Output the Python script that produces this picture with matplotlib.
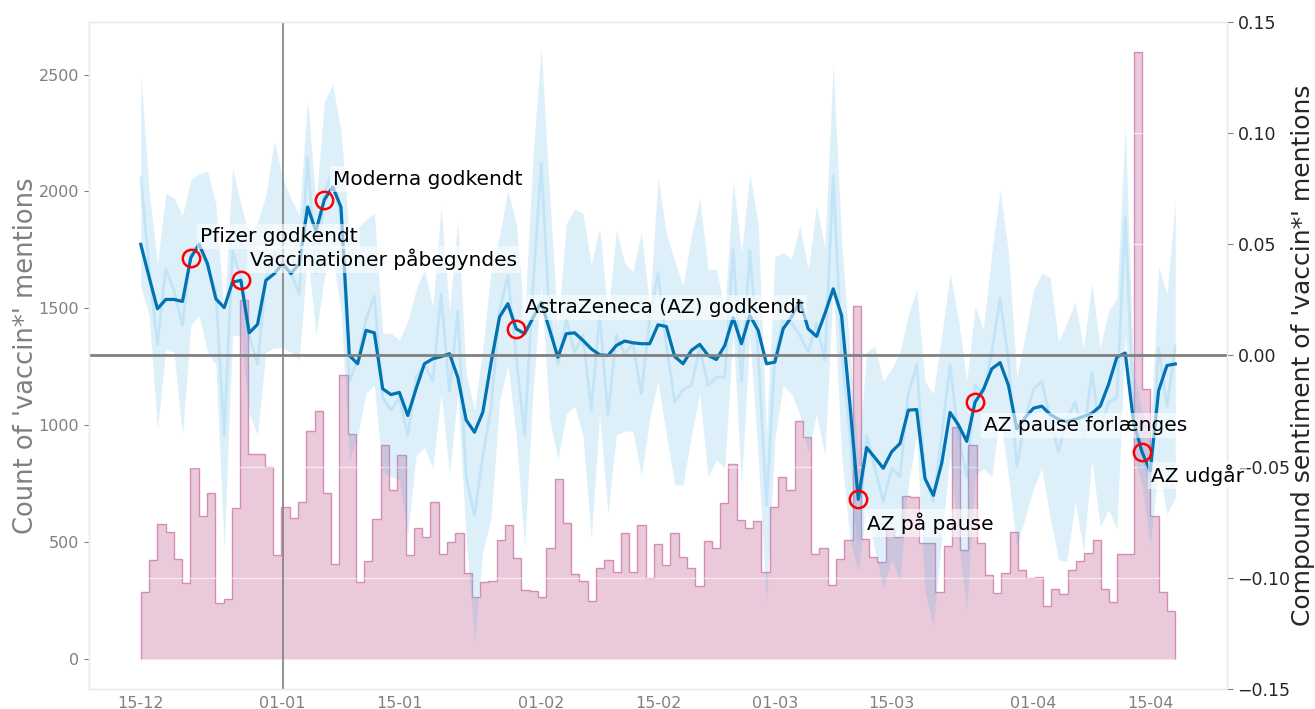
import numpy as np
import pandas as pd
import matplotlib
matplotlib.use("Agg")
import matplotlib.pyplot as plt
import matplotlib.dates as mdates

# ---------------- data ----------------
start_date = "2020-12-15"
end_date = "2021-04-18"
year_mark = "2021-01-01"

counts = [286, 422, 577, 540, 426, 323, 818, 612, 710, 236,
          257, 643, 1535, 875, 875, 822, 444, 650, 600, 669,
          973, 1058, 710, 405, 1216, 960, 326, 420, 598, 915,
          722, 870, 444, 557, 522, 670, 448, 499, 539, 367,
          263, 327, 332, 506, 570, 429, 293, 289, 265, 474,
          767, 579, 363, 332, 246, 390, 422, 372, 537, 372,
          573, 346, 489, 399, 536, 433, 386, 313, 502, 472,
          668, 831, 593, 561, 588, 372, 650, 777, 721, 1016,
          948, 448, 472, 315, 427, 507, 1508, 510, 433, 413,
          560, 520, 697, 692, 494, 494, 285, 480, 990, 466,
          914, 494, 357, 280, 366, 540, 380, 344, 350, 224,
          300, 277, 380, 416, 451, 509, 300, 244, 446, 446,
          2595, 1155, 612, 287, 202]

sentiment = [0.050, 0.0353, 0.021, 0.0252, 0.0252, 0.0243, 0.044, 0.050, 0.0413, 0.0255,
             0.0215, 0.033, 0.0338, 0.0102, 0.014, 0.0338, 0.0368, 0.0413, 0.0368, 0.0413,
             0.0668, 0.056, 0.070, 0.0758, 0.0668, 0.0, -0.0037, 0.0113, 0.0102, -0.015,
             -0.0176, -0.0166, -0.027, -0.015, -0.0037, -0.0015, -0.0005, 0.0008, -0.0098, -0.029,
             -0.0345, -0.0255, -0.003, 0.0173, 0.0233, 0.012, 0.0098, 0.0168, 0.024, 0.0116,
             -0.0008, 0.0098, 0.0102, 0.0068, 0.003, 0.0003, 0.0, 0.0045, 0.0065, 0.0057,
             0.0053, 0.0053, 0.0138, 0.013, -0.0005, -0.0037, 0.0023, 0.005, 0.0, -0.0018,
             0.0045, 0.017, 0.0053, 0.018, 0.0113, -0.0037, -0.003, 0.012, 0.0173, 0.0245,
             0.012, 0.0086, 0.0188, 0.030, 0.018, -0.022, -0.0647, -0.0414, -0.046, -0.0507,
             -0.0433, -0.0396, -0.0246, -0.0243, -0.0554, -0.0629, -0.0485, -0.0256, -0.0312, -0.0386,
             -0.021, -0.0153, -0.006, -0.0032, -0.0134, -0.033, -0.028, -0.0237, -0.0228, -0.0265,
             -0.0287, -0.0298, -0.0287, -0.0274, -0.026, -0.0228, -0.013, -0.0007, 0.0011, -0.030,
             -0.0433, -0.052, -0.0158, -0.0045, -0.0038]

daily_mean = [0.080, 0.039, 0.005, 0.039, 0.029, 0.0136, 0.047, 0.050, 0.039, 0.029,
              -0.036, 0.047, 0.035, 0.009, -0.004, 0.035, 0.046, 0.0425, 0.037, 0.0276,
              0.089, 0.037, 0.072, 0.0836, 0.061, -0.0116, -0.002, 0.0164, 0.0267, -0.019,
              -0.0246, -0.019, -0.036, -0.0097, -0.0041, -0.0116, 0.0276, -0.0162, 0.020, -0.0545,
              -0.072, -0.045, -0.0228, 0.020, 0.036, -0.0004, -0.0358, 0.0295, 0.0864, 0.0164,
              -0.0041, 0.0164, 0.0015, 0.009, -0.0246, 0.0183, -0.0265, 0.009, 0.0006, 0.0052,
              -0.0172, 0.0164, 0.037, 0.0043, -0.0209, -0.0153, -0.0134, 0.0034, -0.0134, -0.0097,
              -0.0097, 0.048, -0.0116, 0.047, 0.0015, -0.0675, -0.0004, 0.0164, 0.0146, 0.009,
              0.0015, 0.0146, -0.0022, 0.0808, 0.0015, -0.0358, -0.0825, -0.0358, -0.0507, -0.0657,
              -0.0507, -0.0545, -0.0172, -0.0041, -0.0545, -0.0657, -0.0358, -0.0041, -0.0358, -0.0545,
              -0.0134, -0.0172, 0.0015, 0.0257, -0.0022, -0.0498, -0.0284, -0.0153, -0.0116, -0.0284,
              -0.0433, -0.0284, -0.0209, -0.0358, -0.0078, -0.034, -0.0209, -0.019, 0.0621, -0.0265,
              -0.0414, -0.060, 0.0034, -0.0228, 0.0043]

ci_upper = [0.127, 0.074, 0.041, 0.073, 0.071, 0.063, 0.079, 0.0817, 0.083, 0.068,
            0.019, 0.0845, 0.068, 0.054, 0.060, 0.072, 0.0966, 0.080, 0.0705, 0.063,
            0.115, 0.0687, 0.114, 0.122, 0.101, 0.054, 0.0575, 0.061, 0.064, 0.010,
            0.010, 0.007, 0.0155, 0.0295, 0.0388, 0.022, 0.0668, 0.020, 0.060, -0.0078,
            -0.0246, 0.0034, 0.0388, 0.0537, 0.0743, 0.0593, 0.0164, 0.089, 0.1386, 0.0724,
            0.0127, 0.0593, 0.0659, 0.064, 0.0407, 0.0575, 0.0183, 0.0565, 0.0416, 0.0379,
            0.0556, 0.022, 0.080, 0.0547, 0.0425, 0.0313, 0.054, 0.0705, 0.0388, 0.0388,
            0.020, 0.078, 0.0463, 0.0817, 0.0593, -0.0358, 0.0444, 0.0463, 0.0435, 0.0584,
            0.0388, 0.0677, 0.0481, 0.131, 0.0519, 0.0015, -0.045, 0.0015, 0.0043, -0.0116,
            -0.006, 0.0015, 0.0183, 0.0295, -0.0116, -0.0172, 0.009, 0.037, 0.0164, -0.0116,
            0.022, 0.0118, 0.0463, 0.0743, 0.0463, -0.0097, 0.009, 0.0295, 0.037, 0.035,
            0.0062, 0.0146, 0.0239, 0.0034, 0.0323, 0.0034, 0.020, 0.0257, 0.1032, -0.0078,
            -0.025, -0.035, 0.0397, 0.0276, 0.0696]

ci_lower = [0.031, 0.018, -0.033, 0.0025, 0.0015, -0.036, 0.0136, 0.018, 0.0015, -0.004,
            -0.087, 0.009, 0.009, -0.0265, -0.036, 0.0015, 0.0034, 0.0034, 0.0015, -0.002,
            0.046, 0.009, 0.035, 0.044, 0.020, -0.047, -0.036, -0.017, -0.0134, -0.0526,
            -0.0545, -0.056, -0.0806, -0.045, -0.0414, -0.0507, -0.0172, -0.0535, -0.0172, -0.0825,
            -0.129, -0.088, -0.073, -0.0209, -0.0041, -0.0358, -0.0862, -0.0172, 0.0313, -0.0284,
            -0.047, -0.0265, -0.0228, -0.0358, -0.0825, -0.0265, -0.0713, -0.0358, -0.034, -0.034,
            -0.0545, -0.0284, -0.0116, -0.0358, -0.0582, -0.0582, -0.0358, -0.0172, -0.0545, -0.047,
            -0.0507, 0.0108, -0.0582, 0.009, -0.045, -0.1123, -0.0377, -0.0134, -0.0172, -0.0265,
            -0.0433, -0.0265, -0.045, 0.0313, -0.045, -0.0825, -0.0974, -0.0694, -0.088, -0.1049,
            -0.0918, -0.1011, -0.0582, -0.0358, -0.1067, -0.1216, -0.0825, -0.045, -0.0825, -0.1142,
            -0.0545, -0.0507, -0.0545, -0.0265, -0.0545, -0.086, -0.073, -0.060, -0.0507, -0.073,
            -0.0918, -0.0927, -0.0657, -0.088, -0.047, -0.0769, -0.0694, -0.0778, 0.009, -0.045,
            -0.058, -0.085, -0.0507, -0.0713, -0.0638]

event_dates = ["2020-12-21", "2020-12-27", "2021-01-06", "2021-01-29",
               "2021-03-11", "2021-03-25", "2021-04-14"]
event_labels = ["Pfizer godkendt", "Vaccinationer påbegyndes", "Moderna godkendt",
                "AstraZeneca (AZ) godkendt", "AZ på pause", "AZ pause forlænges", "AZ udgår"]

# ---------------- colours ----------------
PINK = "#CC79A7"
BLUE = "#0173B2"
LIGHTBLUE = "#56B4E9"
SPINE = "#ebebeb"

# ---------------- figure ----------------
fig = plt.figure(figsize=(13.15, 7.09), dpi=100)
ax1 = fig.add_axes([0.0677, 0.0282, 0.8654, 0.9408])
ax1.set_facecolor("white")
ax2 = ax1.twinx()

days = pd.date_range(start_date, periods=len(sentiment), freq="D")
x_days = mdates.date2num(days)
t0 = float(mdates.date2num(pd.Timestamp(start_date)))
t1 = float(mdates.date2num(pd.Timestamp(end_date)))
edges = np.linspace(t0, t1, len(counts) + 1)

ax1.stairs(counts, edges, baseline=0, fill=True,
           facecolor=matplotlib.colors.to_rgba(PINK, 0.4),
           edgecolor=matplotlib.colors.to_rgba(PINK, 0.8), linewidth=1.0)

ax2.grid(axis="y", color="white", linewidth=1.0, alpha=0.6)
ax2.set_axisbelow(True)
ax2.fill_between(x_days, ci_lower, ci_upper, color=LIGHTBLUE, alpha=0.2, linewidth=0)
ax2.plot(x_days, daily_mean, color=LIGHTBLUE, alpha=0.2, linewidth=2)
ax2.plot(x_days, sentiment, color=BLUE, linewidth=2.3)
ax2.axhline(0, color="gray", linewidth=2.0)
ax2.axvline(mdates.date2num(pd.Timestamp(year_mark)), color="gray", linewidth=1.2)

for d, lab in zip(event_dates, event_labels):
    idx = (pd.Timestamp(d) - pd.Timestamp(start_date)).days
    xv = x_days[idx]
    yv = sentiment[idx]
    ax2.plot(xv, yv, "o", ms=12.5, mfc="none", mec="red", mew=1.8, zorder=5)
    dy = 15 if yv > 0 else -17
    ax2.annotate(lab, (xv, yv), xytext=(6.5, dy), textcoords="offset points",
                 fontsize=14.5, ha="left", va="center", color="black", zorder=6,
                 bbox=dict(boxstyle="square,pad=0.15", fc="white", ec="none", alpha=0.6))

# ---------------- axes styling ----------------
span = t1 - t0
ax1.set_xlim(t0 - 0.05 * span, t1 + 0.05 * span)
ax1.set_ylim(-130, 2725)
ax2.set_ylim(-0.15, 0.15)
ax1.set_yticks([0, 500, 1000, 1500, 2000, 2500])
ax2.set_yticks([-0.15, -0.10, -0.05, 0.0, 0.05, 0.10, 0.15])

ax1.xaxis.set_major_locator(mdates.DayLocator(bymonthday=[1, 15]))
ax1.xaxis.set_major_formatter(mdates.DateFormatter("%d-%m"))

ax1.tick_params(axis="y", colors="gray", labelsize=11.5, length=3.5, width=0.8)
ax1.tick_params(axis="x", colors="gray", labelsize=11.5, length=0, pad=5)
ax2.tick_params(axis="y", labelcolor="#262626", color="gray", labelsize=12.5,
                length=4, width=0.8)

ax1.set_ylabel("Count of 'vaccin*' mentions", fontsize=18.5, color="gray", labelpad=0)
ax2.set_ylabel("Compound sentiment of 'vaccin*' mentions", fontsize=18,
               color="#262626", labelpad=0.5)

for ax in (ax1, ax2):
    for sp in ax.spines.values():
        sp.set_color(SPINE)
        sp.set_linewidth(1.0)

fig.savefig("out.png", dpi=100)
